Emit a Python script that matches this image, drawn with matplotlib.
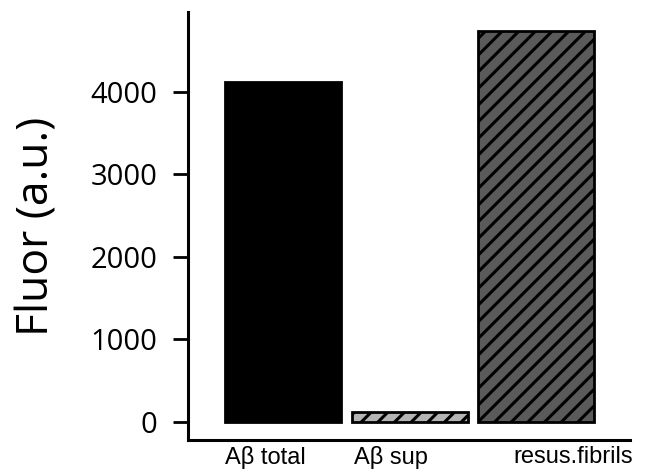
import matplotlib
matplotlib.use("Agg")
import matplotlib.pyplot as plt

# data
categories = ["A\u03b2 total", "A\u03b2 sup", "resus.fibrils"]
fluor = [4110, 120, 4740]
yticks = [0, 1000, 2000, 3000, 4000]

plt.rcParams['hatch.linewidth'] = 2.2

fig = plt.figure(figsize=(6.54, 4.74), dpi=100)
ax = fig.add_axes([0.2875, 0.0717, 0.9633 - 0.2875, 0.975 - 0.0717])

xs = range(len(categories))
face = ["black", "#b4b4b4", "#5a5a5a"]
hatches = [None, "//", "//"]
for x, v, fc, h in zip(xs, fluor, face, hatches):
    ax.bar(x, v, width=0.917, color=fc, edgecolor="black", linewidth=2,
           hatch=h)

ax.set_xlim(-0.75, 2.74)
ax.set_ylim(-222, 4966)

for s in ["top", "right"]:
    ax.spines[s].set_visible(False)
for s in ["left", "bottom"]:
    ax.spines[s].set_linewidth(2.2)

ax.set_yticks(yticks)
ax.set_yticklabels([str(t) for t in yticks], family="Open Sans", fontsize=21)
ax.tick_params(axis="y", length=11, width=2, pad=11)

ax.set_xticks([])
label_left = [-0.46, 0.56, 1.82]
for lx, lab in zip(label_left, categories):
    ax.annotate(lab, (lx, 0), xycoords=ax.get_xaxis_transform(),
                xytext=(0, -4), textcoords="offset points",
                ha="left", va="top", fontsize=17, family="Liberation Sans")

ax.set_ylabel("Fluor (a.u.)", family="Open Sans", fontsize=32)
ax.yaxis.set_label_coords(-0.29, 0.5)

fig.savefig("out.png", dpi=100)
